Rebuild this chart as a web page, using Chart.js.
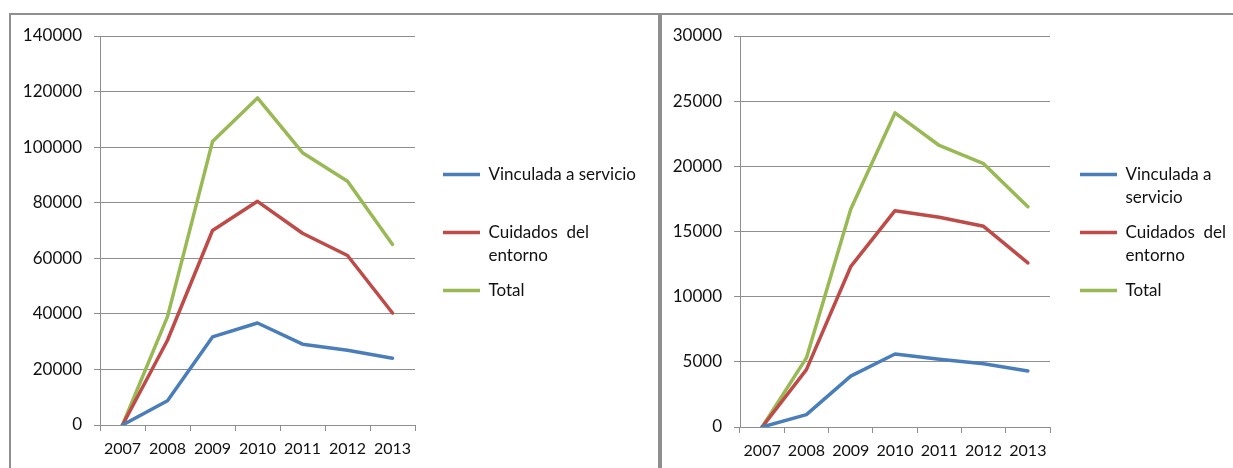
<!DOCTYPE html>
<html>
<head>
<meta charset="utf-8">
<script src="https://cdn.jsdelivr.net/npm/chart.js@4/dist/chart.umd.min.js"></script>
<style>
  body { margin: 0; background: #fff; width: 1233px; height: 468px; overflow: hidden; position: relative; }
  .panel { position: absolute; top: 13px; border-top: 2px solid #8f8f8f; border-left: 2px solid #8f8f8f; }
  #leftPanel { left: 9px; width: 647px; height: 453px; border-right: 2px solid #8f8f8f; }
  #rightPanel { left: 660px; width: 573px; height: 453px; }
  canvas { display: block; }
</style>
</head>
<body>
<div class="panel" id="leftPanel"><canvas id="chartLeft" width="647" height="453"></canvas></div>
<div class="panel" id="rightPanel"><canvas id="chartRight" width="571" height="453"></canvas></div>
<script>
const years = ['2007', '2008', '2009', '2010', '2011', '2012', '2013']

// left chart
const vinculadaLeft = [0, 8700, 31700, 36700, 29100, 26900, 24000]
const cuidadosLeft = [0, 30500, 70000, 80500, 69000, 61000, 40300]
const totalLeft = [0, 39000, 102000, 117700, 98000, 87700, 65000]
const yTicksLeft = [0, 20000, 40000, 60000, 80000, 100000, 120000, 140000]
const legendLeft = [['Vinculada a servicio', ''], ['Cuidados  del', 'entorno'], 'Total']

// right chart
const vinculadaRight = [0, 950, 3900, 5600, 5200, 4850, 4300]
const cuidadosRight = [0, 4400, 12300, 16600, 16100, 15400, 12600]
const totalRight = [0, 5300, 16700, 24100, 21600, 20200, 16900]
const yTicksRight = [0, 5000, 10000, 15000, 20000, 25000, 30000]
const legendRight = [['Vinculada a', 'servicio'], ['Cuidados  del', 'entorno'], 'Total']

const colors = ['#4a7ebb', '#be4b48', '#98b954']
const gridColor = '#8e8e8e'
const textColor = '#111'
const legendFont = { family: 'Lato', size: 17, lineHeight: '23px' }
const yFont = { family: 'Lato', size: 17, lineHeight: '18px' }
const xFont = { family: 'Lato', size: 16 }

// legend box is kept narrow for the layout, then moved and widened
const legendShift = {
    id: 'legendShift',
    afterLayout(chart, args, opts) {
        const lg = chart.legend
        lg.left += opts.dx
        lg.right = chart.width
        lg.top += opts.dy
        lg.bottom += opts.dy
    }
}

function makeChart(id, series, yTicks, legendText, sizes) {
    const names = ['Vinculada a servicio', 'Cuidados del entorno', 'Total']
    return new Chart(document.getElementById(id), {
        type: 'line',
        data: {
            labels: years,
            datasets: series.map((d, i) => ({
                label: names[i],
                data: d,
                borderColor: colors[i],
                backgroundColor: colors[i],
                borderWidth: 3.5,
                pointRadius: 0,
                tension: 0,
                borderJoinStyle: 'round',
                borderCapStyle: 'round'
            }))
        },
        options: {
            responsive: false,
            animation: false,
            devicePixelRatio: 1,
            layout: { padding: { top: sizes.padTop, right: sizes.padRight, bottom: 0, left: 0 } },
            scales: {
                x: {
                    offset: true,
                    grid: { offset: true, drawOnChartArea: false, tickLength: 6, color: gridColor },
                    border: { color: gridColor },
                    ticks: { font: xFont, color: textColor, padding: 8, maxRotation: 0, autoSkip: false },
                    afterFit: s => { s.height = sizes.xHeight }
                },
                y: {
                    min: yTicks[0],
                    max: yTicks[yTicks.length - 1],
                    grid: { color: gridColor, tickLength: 6 },
                    border: { color: gridColor },
                    ticks: {
                        stepSize: yTicks[1] - yTicks[0],
                        font: yFont,
                        color: textColor,
                        padding: 12,
                        callback: v => String(v)
                    },
                    afterFit: s => { s.width = sizes.yWidth }
                }
            },
            plugins: {
                tooltip: { enabled: false },
                legend: {
                    position: 'right',
                    maxWidth: 100,
                    labels: {
                        usePointStyle: true,
                        pointStyle: 'line',
                        pointStyleWidth: 37,
                        padding: 12,
                        font: legendFont,
                        color: textColor,
                        generateLabels(chart) {
                            const items = Chart.defaults.plugins.legend.labels.generateLabels(chart)
                            items.forEach((it, i) => { it.text = legendText[i] })
                            return items
                        }
                    }
                },
                legendShift: { dx: sizes.dx, dy: sizes.dy }
            }
        },
        plugins: [legendShift]
    })
}

makeChart('chartLeft', [vinculadaLeft, cuidadosLeft, totalLeft], yTicksLeft, legendLeft,
    { yWidth: 89, xHeight: 43, padTop: 20, padRight: 143, dx: 16, dy: -19 })
makeChart('chartRight', [vinculadaRight, cuidadosRight, totalRight], yTicksRight, legendRight,
    { yWidth: 78, xHeight: 41, padTop: 20, padRight: 83, dx: 18, dy: -19 })
</script>
</body>
</html>
